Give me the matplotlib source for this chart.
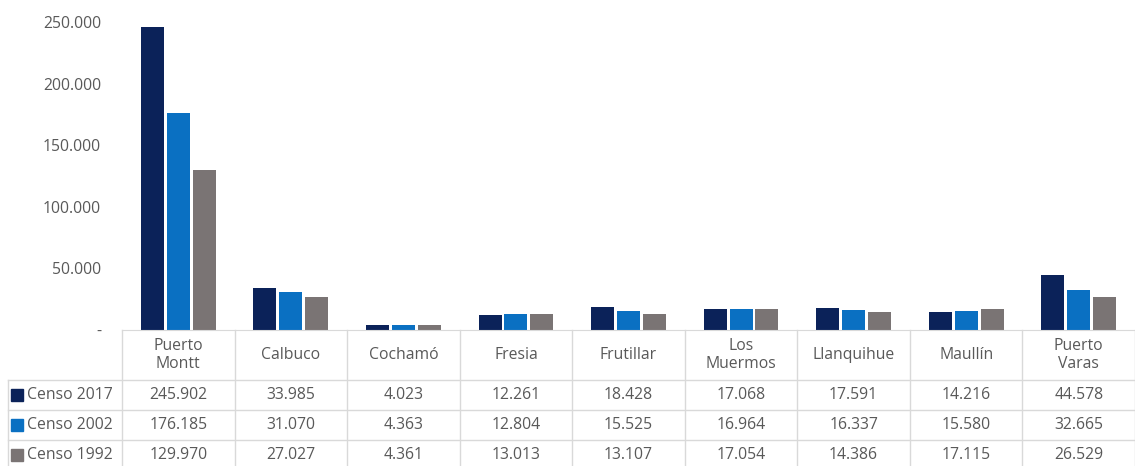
import matplotlib
matplotlib.use("Agg")
import matplotlib.pyplot as plt
import numpy as np
from matplotlib.ticker import FuncFormatter
from matplotlib.patches import Rectangle

categories = ["Puerto\nMontt", "Calbuco", "Cochamó", "Fresia", "Frutillar",
              "Los\nMuermos", "Llanquihue", "Maullín", "Puerto\nVaras"]
series_names = ["Censo 2017", "Censo 2002", "Censo 1992"]
censo_2017 = [245902, 33985, 4023, 12261, 18428, 17068, 17591, 14216, 44578]
censo_2002 = [176185, 31070, 4363, 12804, 15525, 16964, 16337, 15580, 32665]
censo_1992 = [129970, 27027, 4361, 13013, 13107, 17054, 14386, 17115, 26529]
series = [censo_2017, censo_2002, censo_1992]
colors = ["#0b2259", "#0a70c2", "#7a7474"]

W, H = 1135, 466
fig = plt.figure(figsize=(W / 100, H / 100), dpi=100)
plt.rcParams['font.family'] = ['Open Sans', 'DejaVu Sans']
txt_col = "#595959"
grid_col = "#d9d9d9"
fs = 11.3

x0, x1 = 122, 1135
ybase, ytop = 330, 22
ax = fig.add_axes([x0 / W, 1 - ybase / H, (x1 - x0) / W, (ybase - ytop) / H])
n = len(categories)
idx = np.arange(n)
bw = 0.205
step = 0.23
for k, (vals, c) in enumerate(zip(series, colors)):
    ax.bar(idx + (k - 1) * step, vals, width=bw, color=c, label=series_names[k])
ax.set_xlim(-0.5, n - 0.5)
ax.set_ylim(0, 250000)
ax.set_yticks([0, 50000, 100000, 150000, 200000, 250000])
ax.yaxis.set_major_formatter(FuncFormatter(
    lambda v, p: "-" if v == 0 else f"{int(v):,}".replace(",", ".")))
ax.tick_params(axis='y', length=0, labelsize=fs, labelcolor=txt_col, pad=15)
ax.set_xticks([])
for s in ["top", "right", "left"]:
    ax.spines[s].set_visible(False)
ax.spines["bottom"].set_color(grid_col)
ax.patch.set_alpha(0)

# data table drawn in figure pixel coordinates
def fx(px):
    return px / W

def fy(py):
    return 1 - py / H

cw = (x1 - x0) / n
row_edges = [330, 380, 410, 440, 470]
lkw = dict(color=grid_col, lw=1, transform=fig.transFigure)
# vertical lines
for i in range(n + 1):
    xp = x0 + i * cw
    fig.add_artist(plt.Line2D([fx(xp), fx(xp)], [fy(330), fy(470)], **lkw))
fig.add_artist(plt.Line2D([fx(8), fx(8)], [fy(380), fy(470)], **lkw))
# horizontal lines
for r in row_edges[1:-1]:
    fig.add_artist(plt.Line2D([fx(8), fx(x1)], [fy(r), fy(r)], **lkw))

# header row
for i, cat in enumerate(categories):
    cx = x0 + (i + 0.5) * cw
    fig.text(fx(cx), fy(355), cat, ha="center", va="center", fontsize=fs,
             color=txt_col, linespacing=1.25)

# data rows
for k, vals in enumerate(series):
    cy = (row_edges[k + 1] + row_edges[k + 2]) / 2
    if k == 2:
        cy = 455
    fig.add_artist(Rectangle((fx(11), fy(cy + 6)), 12 / W, 12 / H,
                             color=colors[k], transform=fig.transFigure))
    fig.text(fx(27), fy(cy), series_names[k], ha="left", va="center",
             fontsize=fs, color=txt_col)
    for i, v in enumerate(vals):
        cx = x0 + (i + 0.5) * cw
        fig.text(fx(cx), fy(cy), f"{v:,}".replace(",", "."), ha="center",
                 va="center", fontsize=fs, color=txt_col)

fig.savefig("out.png", dpi=100)
